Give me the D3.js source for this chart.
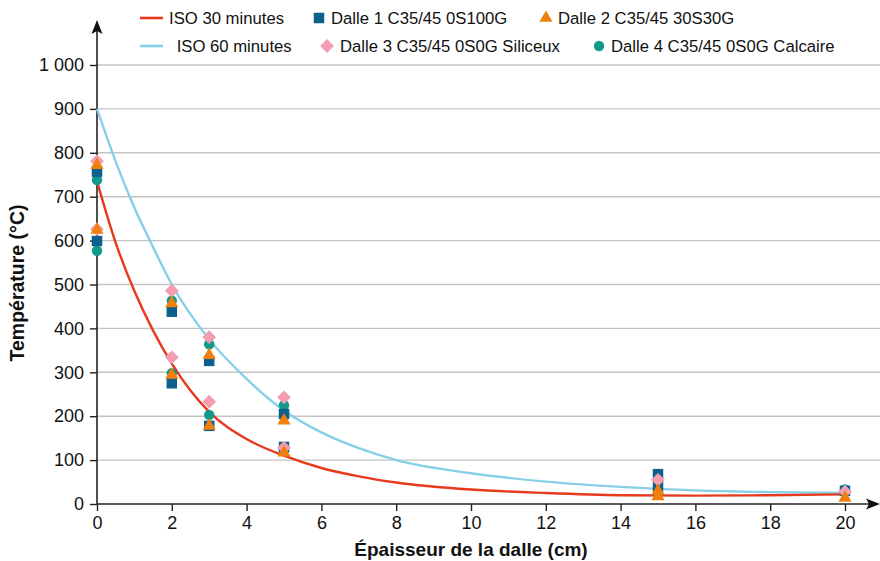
<!DOCTYPE html>
<html><head><meta charset="utf-8">
<script src="https://cdn.jsdelivr.net/npm/d3@7"></script>
<style>
body{margin:0;background:#fff;}
text{font-family:"Liberation Sans",Arial,sans-serif;}
</style></head>
<body><svg id="c" width="880" height="561"></svg>
<script>
// ---- data ----
const xTicks = [0,2,4,6,8,10,12,14,16,18,20];
const yTicks = [0,100,200,300,400,500,600,700,800,900,1000];
const yTickLabels = ["0","100","200","300","400","500","600","700","800","900","1 000"];

const iso30 = [[0,735],[0.5,595],[1,485],[1.5,395],[2,320],[3,210],[4,148],[5,110],[6,82],[7,63],[8,49],[10,33],[12,25],[14,20],[16,19],[18,20],[20,22]];
const iso60 = [[0,900],[0.5,780],[1,675],[1.5,585],[2,500],[3,375],[4,285],[5,213],[6,163],[7,127],[8,100],[10,70],[12,51],[14,39],[16,31],[18,27],[20,25]];

const dalle1 = [[0,757],[0,599],[2,438],[2,275],[3,326],[3,178],[5,205],[5,130],[15,68],[15,40],[20,30]];
const dalle2 = [[0,772],[0,624],[2,457],[2,294],[3,339],[3,178],[5,190],[5,117],[15,30],[15,17],[20,14]];
const dalle3 = [[0,781],[0,626],[2,486],[2,334],[3,380],[3,233],[5,243],[5,128],[15,55],[20,28]];
const dalle4 = [[0,738],[0,577],[2,463],[2,298],[3,364],[3,203],[5,225],[5,122],[15,35],[15,25],[20,33]];

const legendRows = [
  {label:"ISO 30 minutes", type:"line", color:"#e8391d", x:140, y:18, tx:169},
  {label:"Dalle 1 C35/45 0S100G", type:"square", color:"#0d5f8e", x:319, y:18, tx:331},
  {label:"Dalle 2 C35/45 30S30G", type:"triangle", color:"#f07f0c", x:546, y:18, tx:558},
  {label:" ISO 60 minutes", type:"line", color:"#86cfe6", x:140, y:46, tx:172},
  {label:"Dalle 3 C35/45 0S0G Siliceux", type:"diamond", color:"#f29db0", x:327, y:46, tx:340},
  {label:"Dalle 4 C35/45 0S0G Calcaire", type:"circle", color:"#119a8a", x:599, y:46, tx:611}
];

// ---- chart ----
const svg = d3.select("#c");
const x = d3.scaleLinear().domain([0,20]).range([97,845]);
const y = d3.scaleLinear().domain([0,1000]).range([504,65]);

// grid
svg.append("g").selectAll("line").data(yTicks.filter(d=>d>0)).join("line")
  .attr("x1",97).attr("x2",880).attr("y1",d=>y(d)).attr("y2",d=>y(d))
  .attr("stroke","#c4c4c4").attr("stroke-width",1.4);

// axes
const yAxis = d3.axisLeft(y).tickValues(yTicks).tickSize(7).tickPadding(6)
  .tickFormat((d,i)=>yTickLabels[i]);
const gy = svg.append("g").attr("transform","translate(97,0)").call(yAxis);
gy.select(".domain").remove();
gy.selectAll("line").attr("stroke","#222").attr("stroke-width",1.4);
gy.selectAll("text").attr("font-size",18).attr("fill","#111").attr("font-family","Liberation Sans, Arial, sans-serif");

const xAxis = d3.axisBottom(x).tickValues(xTicks).tickSize(7).tickPadding(5);
const gx = svg.append("g").attr("transform","translate(0,504)").call(xAxis);
gx.select(".domain").remove();
gx.selectAll("line").attr("stroke","#222").attr("stroke-width",1.4);
gx.selectAll("text").attr("font-size",18).attr("fill","#111").attr("font-family","Liberation Sans, Arial, sans-serif");

// axis lines with arrows
svg.append("line").attr("x1",97).attr("x2",97).attr("y1",504).attr("y2",30).attr("stroke","#222").attr("stroke-width",1.6);
svg.append("path").attr("d","M97,20 L91.5,34 L97,31 L102.5,34 Z").attr("fill","#111");
svg.append("line").attr("x1",97).attr("x2",870).attr("y1",504).attr("y2",504).attr("stroke","#222").attr("stroke-width",1.6);
svg.append("path").attr("d","M880,504 L866,498.5 L869,504 L866,509.5 Z").attr("fill","#111");

// curves
const line = d3.line().x(d=>x(d[0])).y(d=>y(d[1])).curve(d3.curveMonotoneX);
svg.append("path").datum(iso60).attr("d",line).attr("fill","none").attr("stroke","#86cfe6").attr("stroke-width",2.4);
svg.append("path").datum(iso30).attr("d",line).attr("fill","none").attr("stroke","#e8391d").attr("stroke-width",2.4);

// markers
const sym = {
  square: d3.symbol().type(d3.symbolSquare).size(110),
  triangle: d3.symbol().type(d3.symbolTriangle).size(75),
  diamond: d3.symbol().type(d3.symbolSquare).size(95),
  circle: d3.symbol().type(d3.symbolCircle).size(85)
};
function drawSeries(data, type, color){
  svg.append("g").selectAll("path").data(data).join("path")
    .attr("d", sym[type]())
    .attr("transform", d=>`translate(${x(d[0])},${y(d[1])})` + (type==="diamond"?" rotate(45)":""))
    .attr("fill", color);
}
drawSeries(dalle4,"circle","#119a8a");
drawSeries(dalle1,"square","#0d5f8e");
drawSeries(dalle3,"diamond","#f29db0");
drawSeries(dalle2,"triangle","#f07f0c");

// axis titles
svg.append("text").attr("x",471).attr("y",556).attr("text-anchor","middle")
  .attr("font-size",19).attr("font-weight","bold").attr("fill","#111").text("Épaisseur de la dalle (cm)");
svg.append("text").attr("transform","translate(24,283) rotate(-90)").attr("text-anchor","middle")
  .attr("font-size",19.5).attr("font-weight","bold").attr("fill","#111").text("Température (°C)");

// legend
const lg = svg.append("g");
legendRows.forEach(r=>{
  if(r.type==="line"){
    lg.append("line").attr("x1",r.x).attr("x2",r.x+23).attr("y1",r.y).attr("y2",r.y).attr("stroke",r.color).attr("stroke-width",2.6);
  } else {
    lg.append("path").attr("d",sym[r.type]()).attr("fill",r.color)
      .attr("transform",`translate(${r.x},${r.y})`+(r.type==="diamond"?" rotate(45)":""));
  }
  lg.append("text").attr("x",r.tx).attr("y",r.y+6).attr("font-size",16.7).attr("fill","#111")
    .attr("xml:space","preserve").style("white-space","pre").text(r.label);
});
</script></body></html>
